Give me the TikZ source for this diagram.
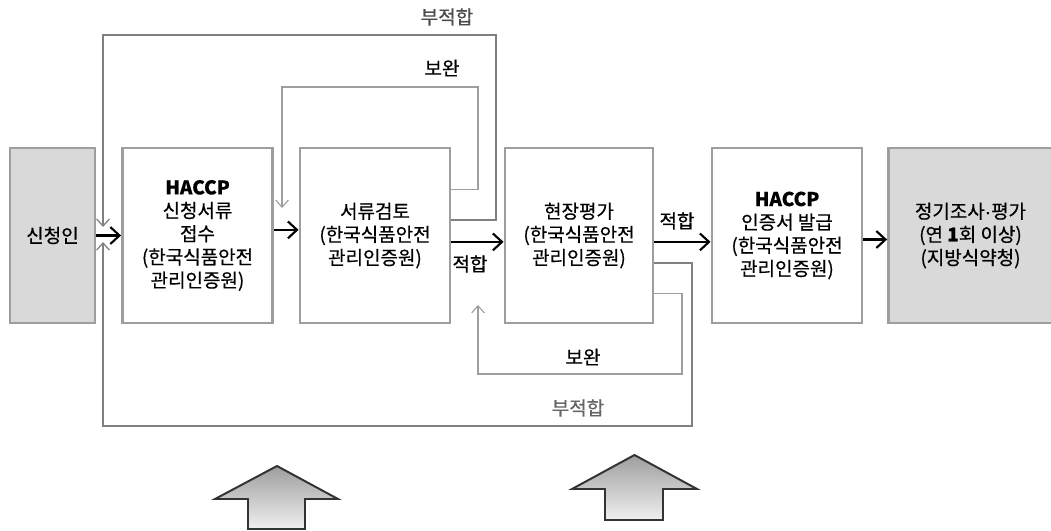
\documentclass[tikz,border=0pt]{standalone}
\usepackage{fontspec}
\setmainfont{Noto Sans CJK KR}[FakeBold=0.5]
\newfontfamily\dotfont{Liberation Sans}[FakeBold=1]
\usetikzlibrary{arrows.meta}
\begin{document}
\begin{tikzpicture}
	[	x=0.025cm,y=-0.025cm,
	stage/.style={rectangle,draw=black!38,line width=2pt,fill=white,minimum width=3.75cm,minimum height=4.375cm,align=center,inner sep=0pt,font=\fontsize{13.5}{16.5}\selectfont},
	grey/.style={fill=black!15},
	flow/.style={line width=1.5pt,-{Straight Barb[length=6.5pt,width=12pt]}},
	back/.style={draw=black!50,line width=0.9pt,-{Straight Barb[length=5pt,width=9pt]}},
	fix/.style={draw=black!38,line width=0.8pt,-{Straight Barb[length=5pt,width=9pt]}},
	tag/.style={inner sep=0pt,font=\fontsize{13.5}{16.5}\selectfont},
	bigarrow/.style={draw=black!80,line width=1.4pt,top color=black!38,bottom color=black!6}
	]
	\useasboundingbox (0,0) rectangle (1051,531);
	\clip (0,0) rectangle (1051,531);

	\node[stage,grey,minimum width=2.125cm] (appl) at (52.5,235.5) {신청인};
	\node[stage] (recv) at (197.5,235.5) {\textbf{HACCP}\\신청서류\\접수\\(한국식품안전\\관리인증원)};
	\node[stage] (review) at (375,235.5) {서류검토\\(한국식품안전\\관리인증원)};
	\node[stage,minimum width=3.7cm] (site) at (579,235.5) {현장평가\\(한국식품안전\\관리인증원)};
	\node[stage] (cert) at (787,235.5) {\textbf{HACCP}\\인증서 발급\\(한국식품안전\\관리인증원)};
	\node[stage,grey,minimum width=4.1cm] (check) at (970.5,235.5) {정기조사{\dotfont ·}평가\\(연 \textbf{1}회 이상)\\(지방식약청)};

	\draw[flow] (appl) -- (recv);
	\draw[flow] ([yshift=0.14cm]recv.east) -- ([yshift=0.14cm]review.west);
	\draw[flow] ([yshift=-0.16cm]review.east) -- ([yshift=-0.16cm]site.west);
	\draw[flow] ([yshift=-0.16cm]site.east) -- ([yshift=-0.16cm]cert.west);
	\draw[flow] ([yshift=-0.1cm]cert.east) -- ([yshift=-0.1cm]check.west);

	\node[tag] (okA) at (470,264) {적합};
	\node[tag] (okB) at (677,221) {적합};

% loops back to the start
	\coordinate (inTop) at (103,227);
	\coordinate (inBot) at (103,242);
	\coordinate (inFix) at (282,208);
	\coordinate (inSite) at (478,305);
	\draw[back] ([yshift=0.39cm]review.east) -| (496,35) -| (inTop);
	\draw[fix] ([yshift=1.14cm]review.east) -| (478,87) -| (inFix);
	\draw[fix] ([yshift=-1.44cm]site.east) -| (682,374) -| (inSite);
	\draw[back] ([yshift=-0.69cm]site.east) -| (692,426) -| (inBot);

	\node[tag,text=black!70] (failTop) at (447,17) {부적합};
	\node[tag] (fixTop) at (442,68) {보완};
	\node[tag] (fixBot) at (583,357) {보완};
	\node[tag,text=black!60] (failBot) at (578,408) {부적합};

% big arrows
	\draw[bigarrow] (277,466) -- (338,499) -- (305,499) -- (305,529) -- (248,529) -- (248,499) -- (215,499) -- cycle;
	\draw[bigarrow] (634.5,455) -- (697,489) -- (663,489) -- (663,520) -- (605,520) -- (605,489) -- (572,489) -- cycle;
\end{tikzpicture}
\end{document}
